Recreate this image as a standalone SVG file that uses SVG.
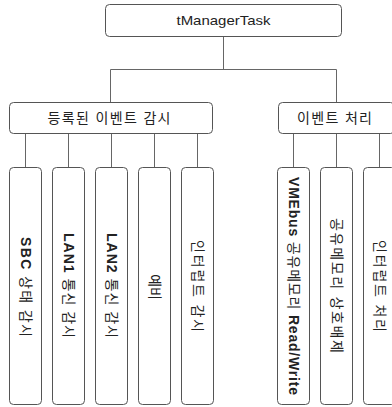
<svg xmlns="http://www.w3.org/2000/svg" width="392" height="407" viewBox="0 0 392 407">
<style>
.box{fill:#fff;stroke:#555;stroke-width:1}
.con{fill:none;stroke:#666;stroke-width:1}
.t{font-family:"Liberation Sans","Noto Sans CJK KR",sans-serif;font-size:13px;fill:#222;text-anchor:middle;dominant-baseline:central}
.v{font-size:14px}
.b{font-weight:bold}
</style>
<rect width="392" height="407" fill="#fff"/>
<g id="connectors">
<path class="con" d="M223.5 36.5V69.5M110.5 69.5H336.5M110.5 69.5V102.5M336.5 69.5V102.5"/>
<path class="con" d="M25.5 133.5V167.5M68.5 133.5V167.5M111.5 133.5V167.5M154.5 133.5V167.5M197.5 133.5V167.5"/>
<path class="con" d="M293.5 133.5V167.5M336.5 133.5V167.5M379.5 133.5V167.5"/>
</g>
<g id="root">
<rect class="box" x="105.5" y="4.5" width="236" height="32" rx="4"/>
<text class="t" x="223.5" y="20.5" textLength="94" lengthAdjust="spacingAndGlyphs">tManagerTask</text>
</g>
<g id="monitor">
<rect class="box" x="9.5" y="102.5" width="203" height="31" rx="4"/>
<text class="t v" x="109" y="118" textLength="123" lengthAdjust="spacing">등록된 이벤트 감시</text>
</g>
<g id="process">
<rect class="box" x="278.5" y="102.5" width="116" height="31" rx="4"/>
<text class="t v" x="334.5" y="118" textLength="75" lengthAdjust="spacing">이벤트 처리</text>
</g>
<g id="sbc">
<rect class="box" x="9.5" y="167.5" width="32" height="237" rx="4"/>
<text class="t v" transform="translate(25.5,287) rotate(90)" textLength="100" lengthAdjust="spacing"><tspan class="b">SBC</tspan> 상태 감시</text>
</g>
<g id="lan1">
<rect class="box" x="52.5" y="167.5" width="32" height="237" rx="4"/>
<text class="t v" transform="translate(68.5,285.5) rotate(90)" textLength="105" lengthAdjust="spacing"><tspan class="b">LAN1</tspan> 통신 감시</text>
</g>
<g id="lan2">
<rect class="box" x="95.5" y="167.5" width="32" height="237" rx="4"/>
<text class="t v" transform="translate(111.5,285.5) rotate(90)" textLength="105" lengthAdjust="spacing"><tspan class="b">LAN2</tspan> 통신 감시</text>
</g>
<g id="spare">
<rect class="box" x="138.5" y="167.5" width="32" height="237" rx="4"/>
<text class="t v" transform="translate(154.5,287) rotate(90)">예비</text>
</g>
<g id="intmon">
<rect class="box" x="181.5" y="167.5" width="32" height="237" rx="4"/>
<text class="t v" transform="translate(197.5,286) rotate(90)" textLength="92" lengthAdjust="spacing">인터럽트 감시</text>
</g>
<g id="vme">
<rect class="box" x="277.5" y="167.5" width="32" height="237" rx="4"/>
<text class="t v" transform="translate(293.5,286) rotate(90)" textLength="218" lengthAdjust="spacing"><tspan class="b">VMEbus</tspan> 공유메모리 <tspan class="b">Read/Write</tspan></text>
</g>
<g id="mutex">
<rect class="box" x="320.5" y="167.5" width="32" height="237" rx="4"/>
<text class="t v" transform="translate(336.5,285.5) rotate(90)" textLength="135" lengthAdjust="spacing">공유메모리 상호배제</text>
</g>
<g id="intproc">
<rect class="box" x="363.5" y="167.5" width="32" height="237" rx="4"/>
<text class="t v" transform="translate(379.5,286) rotate(90)" textLength="92" lengthAdjust="spacing">인터럽트 처리</text>
</g>
</svg>
